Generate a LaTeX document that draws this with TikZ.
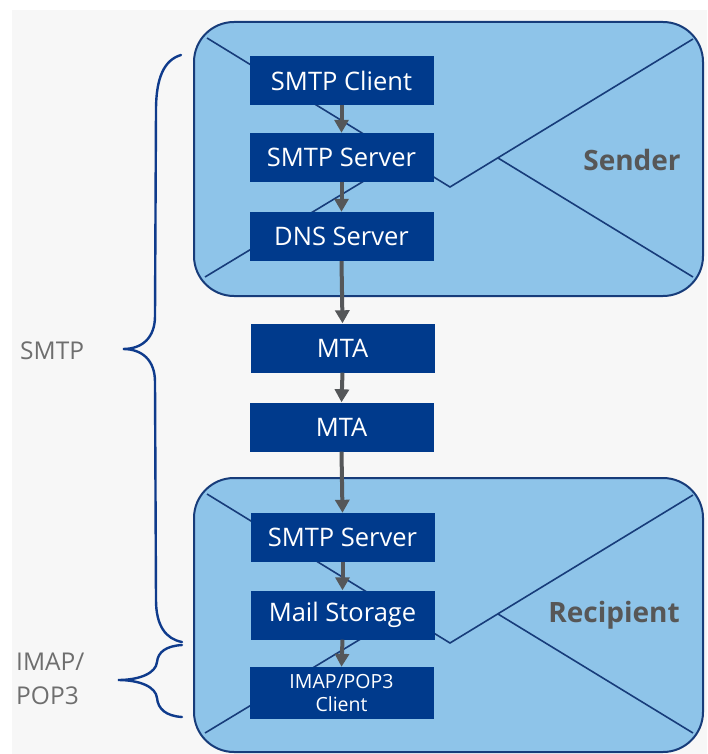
\documentclass[tikz,border=0pt]{standalone}
\usepackage{fontspec}
\setmainfont{Open Sans}
\usetikzlibrary{arrows.meta}
\definecolor{pagegray}{HTML}{F7F7F7}
\definecolor{envfill}{HTML}{8EC4E9}
\definecolor{envline}{HTML}{173C7A}
\definecolor{boxblue}{HTML}{003A8C}
\definecolor{arrowgray}{HTML}{555759}
\definecolor{bracecol}{HTML}{0F3B8C}
\definecolor{labelgray}{HTML}{6E6E6E}
\definecolor{titlegray}{HTML}{575757}
\tikzset{
  envelope/.style={draw=envline, line width=2pt, fill=envfill, rounded corners=40pt,
    minimum width=509pt, minimum height=274pt, inner sep=0pt},
  flap/.style={draw=envline, line width=1.6pt},
  stepbox/.style={fill=boxblue, text=white, minimum width=184pt, minimum height=49pt,
    inner sep=0pt, font=\fontsize{25.5}{29}\selectfont},
  smallbox/.style={stepbox, font=\fontsize{19.5}{23}\selectfont, align=center},
  flow/.style={draw=arrowgray, line width=4pt, -{Triangle[width=14pt,length=13pt]}},
  sidelabel/.style={text=labelgray, font=\fontsize{24.5}{34}\selectfont, align=left, inner sep=0pt},
  title/.style={text=titlegray, font=\bfseries\fontsize{28}{32}\selectfont, inner sep=0pt},
  brace/.style={draw=bracecol, line width=2.4pt, line cap=round}
}
\begin{document}
\begin{tikzpicture}[x=1pt, y=-1pt]
  \useasboundingbox (0,0) rectangle (707,754);
  \fill[white] (0,0) rectangle (707,754);
  \fill[pagegray] (12,10) rectangle (707,754);

  % sender envelope
  \node[envelope] (sender) at (448.5,159) {};
  \draw[flap] (207,38) -- (450,187) -- (693,39);
  \draw[flap] (205,277) -- (402,158);
  \draw[flap] (693,277) -- (498,158);
  \node[title] (sendertitle) at (632,160) {Sender};

  % recipient envelope
  \node[envelope] (recipient) at (448.5,615) {};
  \draw[flap] (207,494) -- (450,643) -- (693,495);
  \draw[flap] (205,733) -- (402,614);
  \draw[flap] (693,733) -- (498,614);
  \node[title] (recipienttitle) at (614,615) {Recipient};

  % processing chain
  \node[stepbox] (client)  at (341.5,80.5) {SMTP Client};
  \node[stepbox] (server1) at (341.5,157.5) {SMTP Server};
  \node[stepbox] (dns)     at (341.5,236.5) {DNS Server};
  \node[stepbox] (mta1)    at (342.5,348) {MTA};
  \node[stepbox] (mta2)    at (341.5,427) {MTA};
  \node[stepbox] (server2) at (342.5,537.5) {SMTP Server};
  \node[stepbox] (storage) at (342.5,615) {Mail Storage};
  \node[smallbox, minimum height=52pt] (imap) at (341.5,693) {IMAP/POP3\\Client};

  \draw[flow] (client.south)  -- (server1.north);
  \draw[flow] (server1.south) -- (dns.north);
  \draw[flow] (dns.south)     -- (mta1.north);
  \draw[flow] (mta1.south)    -- (mta2.north);
  \draw[flow] (mta2.south)    -- (server2.north);
  \draw[flow] (server2.south) -- (storage.north);
  \draw[flow] (storage.south) -- (imap.north);

  % protocol braces
  \draw[brace] (181,55) .. controls (164,60) and (156,78) .. (156,110)
    -- (155,316) .. controls (155,338) and (142,349) .. (123,349)
    .. controls (142,349) and (155,360) .. (155,382)
    -- (156,600) .. controls (156,626) and (166,639) .. (182,642);
  \draw[brace] (182,645) .. controls (166,646) and (158,652) .. (157,662)
    .. controls (156,673) and (140,680) .. (118,680)
    .. controls (140,680) and (156,687) .. (157,698)
    .. controls (158,709) and (166,716) .. (182,717);

  \node[sidelabel, anchor=west] (smtp) at (20,351) {SMTP};
  \node[sidelabel, anchor=west] (imaplabel) at (16,679) {IMAP/\\POP3};
\end{tikzpicture}
\end{document}
